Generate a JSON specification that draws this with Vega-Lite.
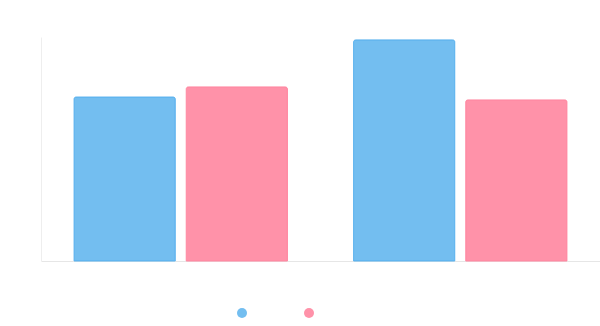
{
  "$schema": "https://vega.github.io/schema/vega-lite/v6.json",
  "width": 559,
  "height": 224,
  "autosize": {"type": "none"},
  "padding": {"left": 41, "top": 37, "right": 0, "bottom": 65},
  "background": "white",
  "config": {"view": {"stroke": null}},
  "data": {"values": [
    {"group": "1", "series": "A", "value": 73.2},
    {"group": "1", "series": "B", "value": 77.7},
    {"group": "2", "series": "A", "value": 98.7},
    {"group": "2", "series": "B", "value": 71.9}
  ]},
  "mark": {"type": "bar", "cornerRadiusTopLeft": 2, "cornerRadiusTopRight": 2, "strokeWidth": 1, "fillOpacity": 1},
  "encoding": {
    "x": {"field": "group", "type": "nominal", "scale": {"paddingInner": 0, "paddingOuter": 0},
      "axis": {"labels": false, "ticks": false, "title": null, "domainColor": "#e6e6e6", "domainWidth": 1}},
    "xOffset": {"field": "series", "type": "nominal", "scale": {"paddingInner": 0.098, "paddingOuter": 0.295}},
    "y": {"field": "value", "type": "quantitative", "scale": {"domain": [0, 100], "nice": false},
      "axis": {"labels": false, "ticks": false, "grid": false, "title": null, "domainColor": "#eeeeee", "domainWidth": 1}},
    "color": {"field": "series", "type": "nominal",
      "scale": {"domain": ["A", "B"], "range": ["#73BEF0", "#FF92A9"]},
      "legend": {"orient": "none", "legendX": 196, "legendY": 271, "direction": "horizontal", "title": null, "labelExpr": "''",
        "symbolType": "circle", "symbolSize": 100, "symbolStrokeWidth": 0, "labelOffset": 0, "columnPadding": 57}},
    "stroke": {"field": "series", "type": "nominal",
      "scale": {"domain": ["A", "B"], "range": ["#5DB3EE", "#FF88A1"]}, "legend": null}
  }
}
